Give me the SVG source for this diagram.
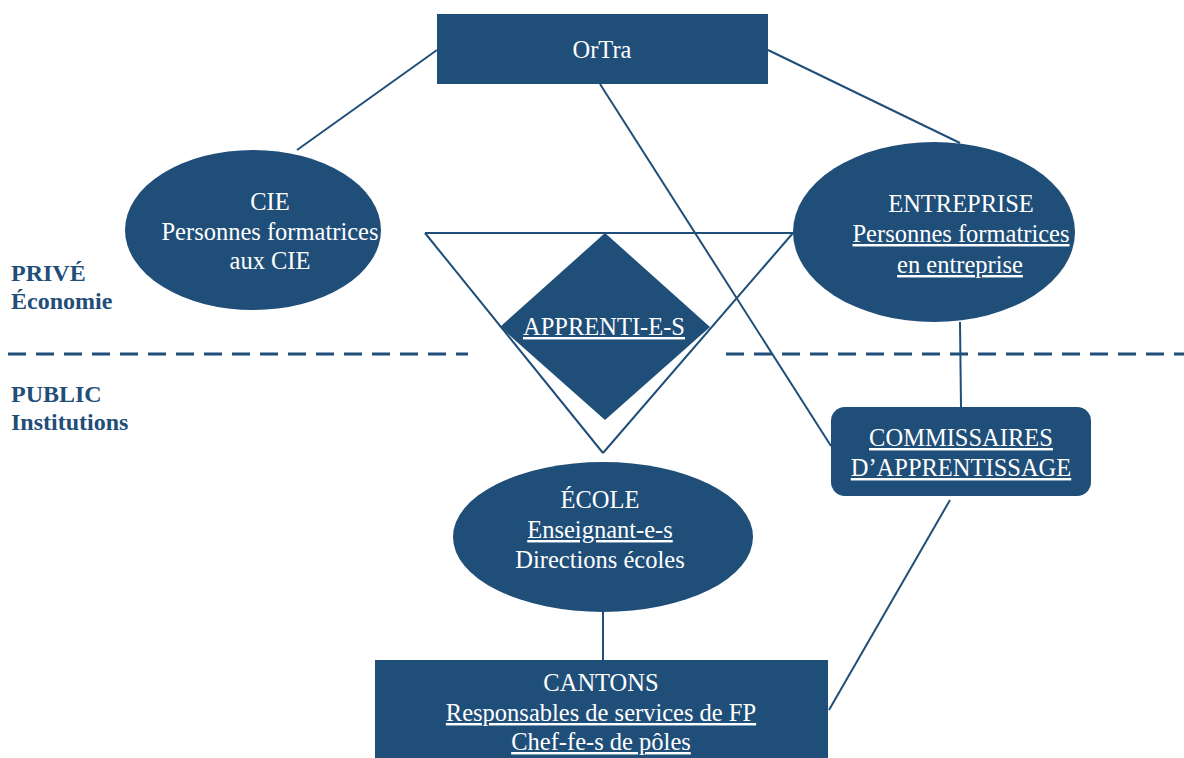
<svg xmlns="http://www.w3.org/2000/svg" width="1184" height="758" viewBox="0 0 1184 758">
<style>
.n{fill:#1F4E79;}
.t{font-family:"Liberation Serif",serif;font-size:24.5px;fill:#fff;text-anchor:middle;}
.u{text-decoration:underline;}
.c{stroke:#1F4E79;stroke-width:2;fill:none;}
.lab{font-family:"Liberation Serif",serif;font-size:24px;font-weight:bold;fill:#1F4E79;}
.d{stroke:#1F4E79;stroke-width:3;stroke-dasharray:18 10;}
</style>
<rect width="1184" height="758" fill="#fff"/>
<g id="connectors">
<line class="c" x1="437" y1="50" x2="297" y2="150"/>
<line class="c" x1="768" y1="50" x2="960" y2="143"/>
<line class="c" x1="600" y1="84" x2="831" y2="446"/>
<line class="c" x1="425" y1="233" x2="793" y2="233"/>
<line class="c" x1="425" y1="233" x2="603" y2="453"/>
<line class="c" x1="793" y1="233" x2="603" y2="453"/>
<line class="c" x1="960" y1="322" x2="961" y2="407"/>
<line class="c" x1="603" y1="612" x2="603" y2="660"/>
<line class="c" x1="950" y1="500" x2="829" y2="710"/>
</g>
<g id="separator">
<line class="d" x1="8" y1="354" x2="468" y2="354"/>
<line class="d" x1="726" y1="354" x2="1184" y2="354"/>
</g>
<g id="labels">
<text class="lab" x="11" y="281">PRIVÉ</text>
<text class="lab" x="11" y="309">Économie</text>
<text class="lab" x="11" y="402">PUBLIC</text>
<text class="lab" x="11" y="430">Institutions</text>
</g>
<g id="ortra">
<rect class="n" x="437" y="14" width="331" height="70"/>
<text class="t" x="602" y="58">OrTra</text>
</g>
<g id="cie">
<ellipse class="n" cx="253" cy="230" rx="128" ry="80"/>
<text class="t" x="270" y="210">CIE</text>
<text class="t" x="270" y="240">Personnes formatrices</text>
<text class="t" x="270" y="269">aux CIE</text>
</g>
<g id="entreprise">
<ellipse class="n" cx="934" cy="232" rx="141" ry="90"/>
<text class="t" x="961" y="212">ENTREPRISE</text>
<text class="t u" x="961" y="242">Personnes formatrices</text>
<text class="t u" x="960" y="273"> en entreprise</text>
</g>
<g id="apprentis">
<polygon class="n" points="605,233 710,327 605,420 500,327"/>
<text class="t u" x="604" y="335">APPRENTI-E-S</text>
</g>
<g id="ecole">
<ellipse class="n" cx="603" cy="537" rx="150" ry="75"/>
<text class="t" x="600" y="508">ÉCOLE</text>
<text class="t u" x="600" y="538">Enseignant-e-s</text>
<text class="t" x="600" y="568">Directions écoles</text>
</g>
<g id="commissaires">
<rect class="n" x="831" y="407" width="260" height="89" rx="14"/>
<text class="t u" x="961" y="446">COMMISSAIRES</text>
<text class="t u" x="961" y="476">D’APPRENTISSAGE</text>
</g>
<g id="cantons">
<rect class="n" x="375" y="660" width="453" height="110"/>
<text class="t" x="601" y="691">CANTONS</text>
<text class="t u" x="601" y="721">Responsables de services de FP</text>
<text class="t u" x="601" y="750">Chef-fe-s de pôles</text>
</g>
</svg>
